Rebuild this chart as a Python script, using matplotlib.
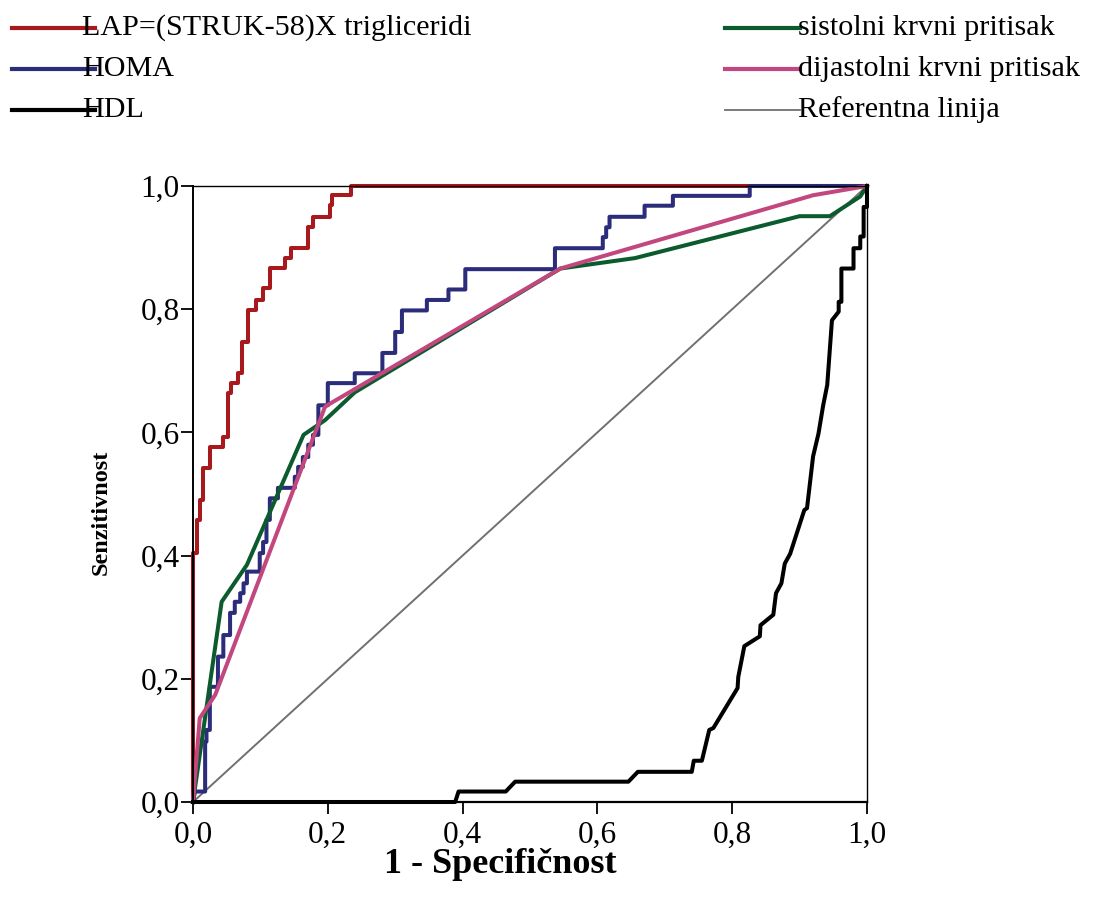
import matplotlib
matplotlib.use("Agg")
import matplotlib.pyplot as plt
from matplotlib.lines import Line2D

plt.rcParams['font.family'] = ['Liberation Serif', 'DejaVu Serif']

# ROC krive (1 - specificnost, senzitivnost), ocitano sa slike
lap_x = [0, 0, 0.0055, 0.0055, 0.0104, 0.0104, 0.015, 0.015, 0.025, 0.025, 0.045, 0.045,
         0.052, 0.052, 0.057, 0.057, 0.067, 0.067, 0.072, 0.072, 0.082, 0.082, 0.094, 0.094,
         0.104, 0.104, 0.114, 0.114, 0.137, 0.137, 0.146, 0.146, 0.171, 0.171, 0.178, 0.178,
         0.203, 0.203, 0.206, 0.206, 0.235, 0.235, 1.0]
lap_y = [0, 0.404, 0.404, 0.458, 0.458, 0.49, 0.49, 0.542, 0.542, 0.576, 0.576, 0.593,
         0.593, 0.664, 0.664, 0.680, 0.680, 0.696, 0.696, 0.747, 0.747, 0.799, 0.799, 0.815,
         0.815, 0.834, 0.834, 0.867, 0.867, 0.883, 0.883, 0.899, 0.899, 0.934, 0.934, 0.950,
         0.950, 0.969, 0.969, 0.985, 0.985, 1.0, 1.0]

homa_x = [0, 0.003, 0.018, 0.018, 0.02, 0.02, 0.025, 0.025, 0.037, 0.037, 0.045, 0.045,
          0.055, 0.055, 0.062, 0.062, 0.07, 0.07, 0.075, 0.075, 0.08, 0.08, 0.099, 0.099,
          0.104, 0.104, 0.109, 0.109, 0.114, 0.114, 0.126, 0.126, 0.151, 0.151, 0.156, 0.156,
          0.163, 0.163, 0.171, 0.171, 0.178, 0.178, 0.186, 0.186, 0.2, 0.2, 0.24, 0.24,
          0.281, 0.281, 0.3, 0.3, 0.31, 0.31, 0.347, 0.347, 0.379, 0.379, 0.404, 0.404,
          0.537, 0.537, 0.608, 0.608, 0.613, 0.613, 0.618, 0.618, 0.67, 0.67, 0.712, 0.712,
          0.826, 0.826, 1.0]
homa_y = [0, 0.017, 0.017, 0.098, 0.098, 0.117, 0.117, 0.187, 0.187, 0.236, 0.236, 0.271,
          0.271, 0.307, 0.307, 0.325, 0.325, 0.339, 0.339, 0.355, 0.355, 0.374, 0.374, 0.404,
          0.404, 0.422, 0.422, 0.458, 0.458, 0.493, 0.493, 0.51, 0.51, 0.528, 0.528, 0.544,
          0.544, 0.56, 0.56, 0.58, 0.58, 0.596, 0.596, 0.644, 0.644, 0.68, 0.68, 0.696,
          0.696, 0.729, 0.729, 0.763, 0.763, 0.798, 0.798, 0.815, 0.815, 0.832, 0.832, 0.865,
          0.865, 0.899, 0.899, 0.917, 0.917, 0.933, 0.933, 0.95, 0.95, 0.968, 0.968, 0.984,
          0.984, 1.0, 1.0]

sist_x = [0, 0.0425, 0.08, 0.164, 0.196, 0.24, 0.545, 0.656, 0.9, 0.945, 0.99, 1.0]
sist_y = [0, 0.325, 0.385, 0.596, 0.62, 0.665, 0.866, 0.883, 0.951, 0.951, 0.983, 1.0]

dijast_x = [0, 0.01, 0.033, 0.196, 0.545, 0.92, 1.0]
dijast_y = [0, 0.136, 0.174, 0.642, 0.866, 0.985, 1.0]

hdl_x = [0, 0.389, 0.394, 0.464, 0.478, 0.646, 0.66, 0.74, 0.743, 0.755, 0.766, 0.772,
         0.808, 0.809, 0.818, 0.841, 0.842, 0.861, 0.865, 0.873, 0.878, 0.886, 0.907, 0.911,
         0.92, 0.928, 0.935, 0.941, 0.948, 0.958, 0.958, 0.962, 0.962, 0.98, 0.98, 0.99,
         0.99, 0.995, 0.995, 1.0, 1.0]
hdl_y = [0, 0, 0.017, 0.017, 0.033, 0.033, 0.049, 0.049, 0.067, 0.067, 0.117, 0.12,
         0.185, 0.203, 0.253, 0.269, 0.287, 0.304, 0.339, 0.355, 0.387, 0.403, 0.474, 0.477,
         0.561, 0.598, 0.644, 0.677, 0.782, 0.796, 0.812, 0.812, 0.866, 0.866, 0.899, 0.899,
         0.918, 0.918, 0.966, 0.966, 1.0]

ticks = [0.0, 0.2, 0.4, 0.6, 0.8, 1.0]
tick_labels = ['0,0', '0,2', '0,4', '0,6', '0,8', '1,0']

names = ['LAP=(STRUK-58)X trigliceridi', 'HOMA', 'HDL',
         'sistolni krvni pritisak', 'dijastolni krvni pritisak', 'Referentna linija']
colors = ['#a8191e', '#2b2d7a', '#000000', '#0b5b2e', '#c2477f', '#707070']

W, H = 1099, 905
fig = plt.figure(figsize=(W / 100, H / 100), dpi=100)
ax = fig.add_axes([193 / W, 1 - 802 / H, (867 - 193) / W, (802 - 186) / H])

lw = 2.9
ax.plot([0, 1], [0, 1], color=colors[5], lw=1.4, clip_on=False)
ax.plot(lap_x, lap_y, color=colors[0], lw=lw, clip_on=False)
ax.plot(homa_x, homa_y, color=colors[1], lw=lw, clip_on=False)
ax.plot(sist_x, sist_y, color=colors[3], lw=lw, clip_on=False)
ax.plot(dijast_x, dijast_y, color=colors[4], lw=lw, clip_on=False)
ax.plot(hdl_x, hdl_y, color=colors[2], lw=lw, clip_on=False)

ax.set_xlim(0, 1)
ax.set_ylim(0, 1)
ax.set_xticks(ticks)
ax.set_xticklabels(tick_labels)
ax.set_yticks(ticks)
ax.set_yticklabels(tick_labels)
ax.tick_params(direction='out', length=8.5, width=1.3, labelsize=22.5, pad=5)
ax.tick_params(axis='y', pad=1)
for s in ax.spines.values():
    s.set_linewidth(1.0)
ax.spines['bottom'].set_linewidth(1.6)
ax.spines['left'].set_linewidth(1.4)

fig.text(500 / W, 1 - 864 / H, '1 - Specifičnost', ha='center', va='center',
         fontsize=26, fontweight='bold')
fig.text(101 / W, 1 - 512 / H, 'Senzitivnost', ha='center', va='center',
         fontsize=17.5, fontweight='bold', rotation=90)

# legenda iznad grafika
rows = [28, 69, 110]
cols = [(12, 95, 82), (725, 800, 798)]
for i, name in enumerate(names):
    x0, x1, xt = cols[i // 3]
    y = 1 - rows[i % 3] / H
    w = 1.3 if i == 5 else 3.0
    fig.add_artist(Line2D([x0 / W, x1 / W], [y, y], color=colors[i], lw=w,
                          transform=fig.transFigure))
    fig.text(xt / W, y, name, ha='left', va='center', fontsize=21.7)

fig.savefig('out.png', dpi=100)
